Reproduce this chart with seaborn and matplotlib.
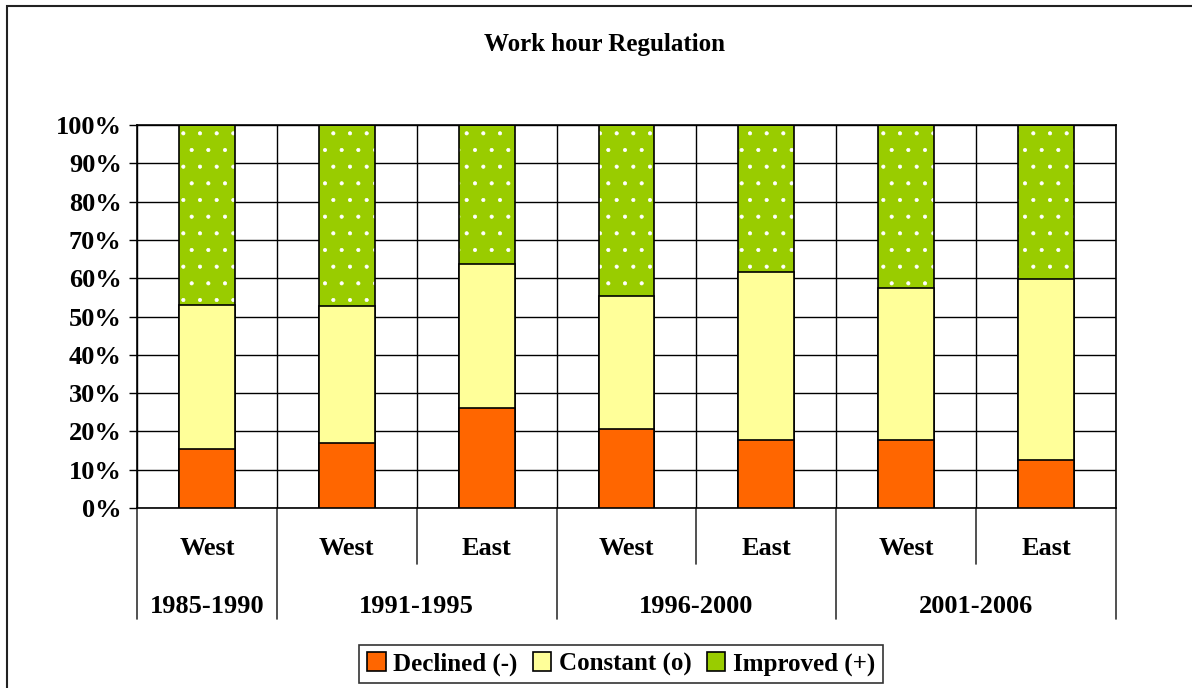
import numpy as np
import pandas as pd
import matplotlib
matplotlib.use("Agg")
import matplotlib.pyplot as plt
from matplotlib.patches import Patch, Rectangle
import matplotlib.transforms as mtransforms
import seaborn as sns

# ---- data ----
periods = ["1985-1990", "1991-1995", "1991-1995", "1996-2000", "1996-2000", "2001-2006", "2001-2006"]
regions = ["West", "West", "East", "West", "East", "West", "East"]
group_labels = ["1985-1990", "1991-1995", "1996-2000", "2001-2006"]
declined = [15.4, 17.0, 26.1, 20.6, 17.8, 17.8, 12.5]
constant = [37.6, 35.7, 37.6, 34.8, 43.8, 39.6, 47.3]
improved = [47.0, 47.3, 36.3, 44.6, 38.4, 42.6, 40.2]
series_names = ["Declined (-)", "Constant (o)", "Improved (+)"]
series_colors = ["#FF6600", "#FFFF99", "#99CC00"]
yticks = list(range(0, 101, 10))

sns.set_style("white")
plt.rcParams["font.family"] = ["Liberation Serif", "DejaVu Serif"]
plt.rcParams["font.weight"] = "bold"
plt.rcParams["hatch.linewidth"] = 0.5
plt.rcParams["text.color"] = "black"
plt.rcParams["xtick.color"] = "black"
plt.rcParams["ytick.color"] = "black"
plt.rcParams["xtick.labelcolor"] = "black"
plt.rcParams["ytick.labelcolor"] = "black"

keys = [f"{p} {r}" for p, r in zip(periods, regions)]
df = pd.DataFrame({"key": keys, "declined": declined, "constant": constant, "improved": improved})
df["top2"] = df["declined"] + df["constant"]
df["top3"] = df["top2"] + df["improved"]

fig = plt.figure(figsize=(11.92, 6.88), dpi=100)
ax = fig.add_axes([137 / 1192, 1 - 508 / 688, (1116 - 137) / 1192, (508 - 125) / 688])

# gridlines
for v in yticks:
    ax.axhline(v, color="black", lw=1.0, zorder=0)
n = len(keys)
for b in np.arange(-0.5, n, 1.0):
    ax.axvline(b, color="black", lw=1.0, zorder=0)

bw = 0.4
# improved (top) layer with white dotted hatch
sns.barplot(data=df, x="key", y="top3", order=keys, color=series_colors[2], saturation=1,
            width=bw, edgecolor="white", linewidth=0, hatch=".", ax=ax, zorder=2)
sns.barplot(data=df, x="key", y="top3", order=keys, color="black", fill=False,
            width=bw, linewidth=1.2, ax=ax, zorder=3)
sns.barplot(data=df, x="key", y="top2", order=keys, color=series_colors[1], saturation=1,
            width=bw, edgecolor="black", linewidth=1.2, ax=ax, zorder=4)
sns.barplot(data=df, x="key", y="declined", order=keys, color=series_colors[0], saturation=1,
            width=bw, edgecolor="black", linewidth=1.2, ax=ax, zorder=5)

ax.set_xlim(-0.5, n - 0.5)
ax.set_ylim(0, 100)
ax.set_yticks(yticks)
ax.set_yticklabels([f"{v}%" for v in yticks], fontsize=19, fontweight="bold")
ax.tick_params(axis="y", length=6, width=1, color="black", pad=5, left=True, direction="out")
ax.set_xticks(range(n))
ax.set_xticklabels(regions, fontsize=19, fontweight="bold")
ax.tick_params(axis="x", length=0, pad=21)
ax.set_xlabel("")
ax.set_ylabel("")
for s in ax.spines.values():
    s.set_visible(True)
    s.set_color("black")
    s.set_linewidth(1.2)

# multi-level category axis separators and group labels
trans = mtransforms.blended_transform_factory(ax.transData, ax.transAxes)
bounds = [-0.5]
centers = []
start = 0
for g in group_labels:
    cnt = periods.count(g)
    centers.append(start + (cnt - 1) / 2)
    for j in range(1, cnt):
        xb = start + j - 0.5
        ax.plot([xb, xb], [0, -0.145], color="#333333", lw=1.2, transform=trans, clip_on=False)
    start += cnt
    bounds.append(start - 0.5)
for xb in bounds:
    ax.plot([xb, xb], [0, -0.29], color="#333333", lw=1.2, transform=trans, clip_on=False)
for c, g in zip(centers, group_labels):
    ax.text(c, -0.256, g, transform=trans, ha="center", va="center", fontsize=19, fontweight="bold")

fig.text(0.5075, 1 - 45 / 688, "Work hour Regulation", ha="center", va="center",
         fontsize=18, fontweight="bold")

handles = [Patch(facecolor=series_colors[0], edgecolor="black", lw=1.2),
           Patch(facecolor=series_colors[1], edgecolor="black", lw=1.2),
           Patch(facecolor=series_colors[2], edgecolor="black", lw=1.2)]
leg = fig.legend(handles, series_names, loc="center", bbox_to_anchor=(621 / 1192, 1 - 664 / 688),
                 ncol=3, frameon=True, fancybox=False, prop={"size": 18, "weight": "bold"},
                 handlelength=0.75, handleheight=0.75, handletextpad=0.3, columnspacing=0.6,
                 borderpad=0.3, borderaxespad=0)
leg.get_frame().set_edgecolor("black")
leg.get_frame().set_linewidth(1.2)

# outer chart frame (top and left visible)
fig.patches.append(Rectangle((7 / 1192, -0.1), 1.2, 1 - 6 / 688 + 0.1, transform=fig.transFigure,
                             fill=False, edgecolor="#222222", lw=1.5))

fig.savefig("out.png", dpi=100)
